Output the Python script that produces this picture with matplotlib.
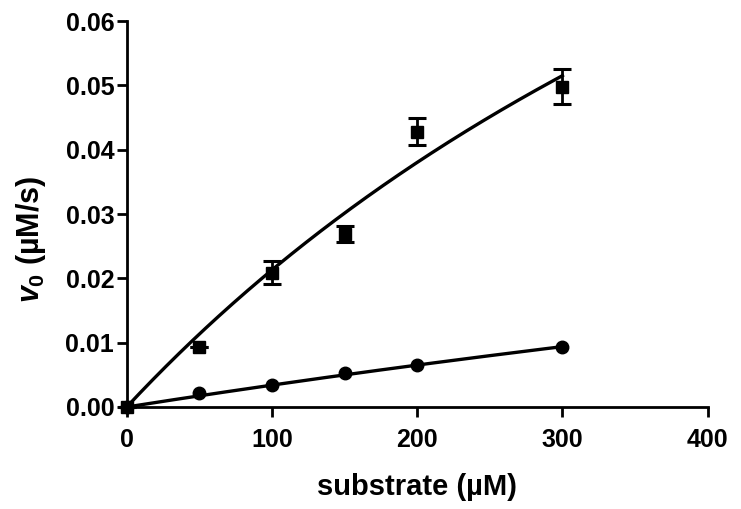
import matplotlib
import numpy as np

matplotlib.use("Agg")
import matplotlib.pyplot as plt  # noqa: E402

plt.rcParams["font.family"] = ["Liberation Sans", "DejaVu Sans"]
plt.rcParams["font.weight"] = "bold"
plt.rcParams["mathtext.fontset"] = "custom"
plt.rcParams["mathtext.rm"] = "Liberation Sans:bold"
plt.rcParams["mathtext.it"] = "Liberation Sans:bold:italic"
plt.rcParams["mathtext.bf"] = "Liberation Sans:bold"

# datos
sustrato = [0, 50, 100, 150, 200, 300]
v_cuad = [0.0, 0.0093, 0.0209, 0.0269, 0.0428, 0.0498]
err_cuad = [0.0, 0.0, 0.0018, 0.0012, 0.0021, 0.0027]
v_circ = [0.0, 0.0022, 0.0034, 0.0053, 0.0066, 0.0094]

# ajuste Michaelis-Menten (parámetros estimados de las curvas)
vmax_cuad, km_cuad = 0.177, 731.0
vmax_circ, km_circ = 0.0782, 2200.0

xticks = [0, 100, 200, 300, 400]
yticks = [0.00, 0.01, 0.02, 0.03, 0.04, 0.05, 0.06]

fig = plt.figure(figsize=(7.41, 5.09), dpi=100)
ax = fig.add_axes([0.171, 0.2004, 0.784, 0.7583])

ss = np.linspace(0, 300, 300)
ax.plot(ss, vmax_cuad * ss / (km_cuad + ss), "-", color="black", lw=2.4)
ax.plot(ss, vmax_circ * ss / (km_circ + ss), "-", color="black", lw=2.4)

ax.errorbar(sustrato, v_cuad, yerr=err_cuad, fmt="s", color="black", ms=8,
            capsize=6.5, elinewidth=2, capthick=2.2, clip_on=False, zorder=3)
ax.plot(sustrato, v_circ, "o", color="black", ms=9, clip_on=False, zorder=3)

ax.set_xlim(0, 400)
ax.set_ylim(0, 0.06)
ax.set_xticks(xticks)
ax.set_yticks(yticks)
ax.set_yticklabels([f"{y:.2f}" for y in yticks])
ax.spines["top"].set_visible(False)
ax.spines["right"].set_visible(False)
for lado in ("left", "bottom"):
    ax.spines[lado].set_linewidth(2)
ax.tick_params(width=2, length=7, labelsize=18)
ax.tick_params(axis="x", pad=8)
ax.tick_params(axis="y", pad=2)

ax.set_xlabel("substrate (µM)", fontsize=21, fontweight="bold", labelpad=15)
fig.text(0.042, 0.53, r"$v_0$ (µM/s)", fontsize=22, fontweight="bold",
         rotation=90, ha="center", va="center")

fig.savefig("out.png", dpi=100)
plt.close(fig)
